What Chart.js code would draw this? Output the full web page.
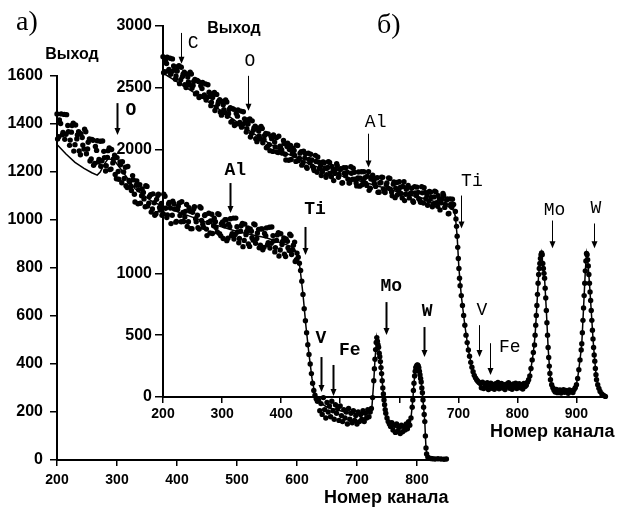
<!DOCTYPE html>
<html>
<head>
<meta charset="utf-8">
<script src="https://cdn.jsdelivr.net/npm/chart.js@4.4.1/dist/chart.umd.min.js"></script>
<style>
body { margin: 0; background: #fff; }
#wrap { position: relative; width: 620px; height: 507px; }
#wrap canvas { position: absolute; left: 0; top: 0; }
</style>
</head>
<body>
<div id="wrap">
  <canvas id="chartA" width="620" height="507"></canvas>
  <canvas id="chartB" width="620" height="507"></canvas>
</div>
<script>
// Спектры: а) и б), выход по номеру канала

// ---- а) ----
const aXTicks = [200, 300, 400, 500, 600, 700, 800];
const aYTicks = [0, 200, 400, 600, 800, 1000, 1200, 1400, 1600];

// сплошная полоса точек, два прохода: каналы 200, 203, 206 ... и 201, 204, 207 ...
const aBandStep = 3;
const aBandStart1 = 200;
const aBandCounts1 = [
  1442,1347,1402,1355,1440,1357,1394,1311,1366,1403,1314,1338,1368,1272,1344,1296,1368,1296,1338,1254,
  1332,1236,1290,1242,1328,1247,1286,1204,1261,1300,1212,1238,1270,1172,1202,1242,1155,1200,1220,1135,
  1165,1140,1185,1107,1145,1068,1147,1101,1115,1055,1140,1070,1105,1046,1072,1026,1102,1052,1069,1026,
  1099,1010,1067,1050,1020,1068,991,1044,1071,993,1031,1013,1065,993,1036,964,1047,1005,1020,962,
  1050,982,1019,962,990,946,1024,976,993,950,1023,934,992,976,1001,924,972,935,1008,940,
  972,905,953,986,915,939,967,890,953,916,980,923,961,895,963,886,934,897,970,903,
  935,867,915,947,875,898,925,848,911,873,935,875,908,835
];
const aBandStart2 = 201;
const aBandCounts2 = [
  1338,1417,1442,1365,1336,1439,1368,1333,1394,1287,1396,1354,1288,1360,1312,1378,1276,1324,1246,1336,
  1228,1306,1330,1252,1224,1329,1260,1226,1289,1210,1294,1254,1190,1260,1170,1230,1243,1173,1143,1223,
  1158,1123,1168,1075,1163,1126,1070,1129,1088,1143,1058,1098,1033,1109,1020,1086,1107,1043,1020,1107,
  1049,1021,1073,985,1078,1046,994,1057,1019,1076,994,1036,973,1051,964,1032,1055,993,968,1055,
  998,970,1022,935,1028,996,944,1007,969,1026,943,985,923,1001,914,982,1005,943,921,1008,
  950,923,976,889,983,952,900,963,926,984,903,946,884,963,876,944,967,905,883,971,
  913,885,938,850,943,911,858,921,884,941,856,895,827
];

// край Ti, пики Mo и W: [канал, выход]
const aEdges = [
  [600,862],[602,845],[604,820],[606,790],[608,745],[610,690],[612,630],[614,580],[616,530],[618,480],
  [620,440],[622,400],[624,360],[626,320],[628,290],[630,270],[632,255],[634,245],
  [636,250],[638,205],[640,235],[642,190],[644,260],[646,210],[648,175],[650,240],[652,200],[654,225],
  [656,180],[658,245],[660,205],[662,170],[664,230],[666,195],[668,215],[670,165],[672,225],[674,185],
  [676,160],[678,210],[680,175],[682,200],[684,150],[686,215],[688,170],[690,195],[692,155],[694,205],
  [696,165],[698,185],[700,150],[702,200],[704,160],[706,190],[708,170],[710,205],[712,160],[714,195],
  [716,175],[718,210],[720,180],[722,200],[724,215],
  [726,260],[728,330],[729,380],[730,420],[731,460],[732,490],[733,510],[734,495],[735,480],[736,470],
  [737,445],[738,430],[739,410],[740,385],[741,360],[742,330],[743,300],[744,275],[745,250],[746,230],
  [747,210],[748,195],[750,175],[752,160],[754,150],
  [756,140],[758,155],[760,125],[762,145],[764,115],[766,150],[768,120],[770,135],[772,110],[774,145],
  [776,118],[778,140],[780,125],[782,150],[784,130],[786,160],[788,145],[790,175],
  [792,220],[793,250],[794,290],[795,320],[796,350],[797,370],[798,385],[799,390],[800,395],[801,396],
  [802,392],[803,385],[804,370],[805,355],[806,340],[807,325],[808,300],[809,280],[810,250],[811,220],
  [812,190],[813,160],[814,100],[815,50],[816,25],[818,12],[820,8],[823,6],[826,5],[830,4],
  [835,5],[840,4],[845,3],[849,4]
];

// расчётная кривая
const aFit = [
  [200,1315],[215,1275],[230,1240],[245,1215],[258,1197],[267,1187],[272,1200],[278,1230],[285,1255],
  [295,1250],[310,1200],[330,1130],[360,1075],[400,1035],[450,990],[500,952],[550,925],[590,890],
  [600,865],[605,800],[610,690],[615,555],[620,440],[625,340],[630,270],[635,245],[650,220],[680,200],
  [710,190],[725,225],[728,330],[730,420],[733,510],[736,470],[739,410],[741,360],[743,300],[745,250],
  [747,210],[750,175],[755,148],[770,130],[785,140],[790,175],[793,250],[795,320],[797,370],[799,390],
  [801,396],[803,385],[805,355],[807,325],[809,280],[811,220],[813,160],[814,100],[815,50],[817,18],
  [820,8],[830,5],[850,4]
];

const aArrows = [
  { label: 'O',  ch: 300, from: 1487, to: 1354, lx: 323, ly: 1458 },
  { label: 'Al', ch: 488, from: 1154, to: 1029, lx: 497, ly: 1208 },
  { label: 'Ti', ch: 613, from: 971,  to: 854,  lx: 630, ly: 1042 },
  { label: 'V',  ch: 640, from: 429,  to: 283,  lx: 640, ly: 508 },
  { label: 'Fe', ch: 660, from: 396,  to: 267,  lx: 688, ly: 458 },
  { label: 'Mo', ch: 748, from: 658,  to: 521,  lx: 757, ly: 721 },
  { label: 'W',  ch: 812, from: 554,  to: 429,  lx: 817, ly: 617 }
];

// ---- б) ----
const bXTicks = [200, 300, 400, 500, 600, 700, 800, 900];
const bXTickLabels = ['200', '300', '400', '', '', '700', '800', '900'];
const bYTicks = [0, 500, 1000, 1500, 2000, 2500, 3000];
const bYTickLabels = ['0', '500', '1000', '', '2000', '2500', '3000'];

const bBandStep = 3;
const bBandStart1 = 200;
const bBandCounts1 = [
  2752,2631,2697,2635,2739,2633,2676,2569,2636,2679,2565,2591,2626,2502,2588,2525,2612,2518,2567,2459,
  2552,2430,2494,2430,2532,2424,2465,2356,2421,2462,2345,2370,2404,2279,2364,2300,2386,2291,2339,2231,
  2326,2205,2271,2208,2312,2206,2249,2142,2208,2248,2131,2156,2190,2065,2150,2086,2172,2080,2132,2027,
  2040,2107,1986,2061,2097,1977,2029,1998,2075,1963,2025,1914,2035,1969,1993,1905,2034,1931,1984,1893,
  1930,1859,1971,1894,1916,1848,1954,1817,1899,1871,1824,1895,1777,1856,1896,1780,1836,1808,1887,1776,
  1840,1731,1854,1790,1817,1731,1862,1761,1817,1730,1772,1705,1821,1748,1774,1711,1821,1688,1774,1749,
  1703,1774,1656,1735,1776,1660,1716,1689,1767,1657,1721,1612,1735,1670,1696,1610,1741,1640,1697,1610,
  1651,1585,1701,1628,1655,1591,1701,1569,1655,1630,1585,1656,1539,1618,1659,1543,1599,1570,1646,1533,
  1594,1482,1602,1534,1557
];
const bBandStart2 = 201;
const bBandCounts2 = [
  2622,2718,2747,2648,2609,2734,2643,2596,2670,2534,2667,2611,2525,2612,2548,2627,2496,2552,2451,2560,
  2422,2517,2544,2443,2402,2525,2432,2383,2455,2317,2447,2390,2303,2389,2324,2402,2270,2325,2223,2332,
  2196,2292,2321,2221,2182,2307,2216,2169,2242,2103,2233,2176,2089,2175,2110,2188,2056,2114,2016,2128,
  1992,2089,2119,2021,1982,2108,2018,1972,2049,1916,2052,2001,1920,2012,1953,2037,1911,1972,1875,1987,
  1967,1849,1921,1963,1865,1832,1904,1941,1848,1791,1901,1852,1797,1903,1808,1864,1750,1840,1871,1801,
  1847,1733,1809,1855,1762,1733,1809,1850,1761,1707,1819,1770,1716,1822,1728,1785,1671,1762,1793,1724,
  1770,1656,1731,1777,1683,1654,1730,1771,1681,1627,1738,1689,1635,1740,1646,1702,1588,1679,1711,1642,
  1688,1575,1651,1697,1604,1575,1651,1693,1604,1550,1662,1613,1559,1665,1571,1627,1513,1602,1630,1558,
  1601,1484,1557,1599
];

const bEdges = [
  [695,1500],[696,1440],[697,1380],[698,1300],[699,1210],[700,1120],[701,1040],[702,960],[703,900],[705,820],
  [707,740],[709,660],[711,580],[713,500],[715,440],[717,380],[719,330],[721,280],[723,240],[725,205],
  [727,175],[729,155],[731,140],[733,128],[735,118],
  [737,110],[739,75],[741,120],[743,68],[745,105],[747,80],[749,115],[751,60],[753,95],[755,112],
  [757,70],[759,100],[761,62],[763,108],[765,85],[767,118],[769,66],[771,92],[773,110],[775,72],
  [777,98],[779,60],[781,104],[783,88],[785,115],[787,70],[789,96],[791,62],[793,106],[795,80],
  [797,112],[799,68],[801,94],[803,108],[805,74],[807,100],[809,65],[811,110],[813,85],[815,95],
  [817,120],[819,140],
  [821,170],[823,230],[825,300],[827,360],[829,420],[830,500],[831,580],[832,660],[833,740],[834,830],
  [835,920],[836,990],[837,1040],[838,1080],[839,1120],[840,1150],[841,1165],[842,1150],[843,1080],[844,1040],
  [845,1000],[846,960],[847,880],[848,800],[849,700],[850,600],[851,500],[852,400],[853,320],[854,250],
  [855,190],[856,140],[858,100],[860,75],
  [862,55],[864,40],[866,62],[868,35],[870,50],[872,58],[874,32],[876,48],[878,60],[880,38],
  [882,52],[884,45],[886,30],[888,57],[890,42],[892,50],[894,36],[896,60],[898,75],
  [900,100],[902,150],[904,220],[906,300],[908,380],[909,430],[910,520],[911,620],[912,720],[913,820],
  [914,920],[915,1020],[916,1100],[917,1160],[918,1150],[919,1110],[920,1060],[921,990],[922,920],[923,850],
  [924,780],[925,700],[926,620],[927,540],[928,470],[929,400],[930,340],[931,290],[932,230],[933,180],
  [934,140],[936,100],[938,70],[940,45],[943,25],[946,12],[949,5]
];

const bFit = [
  [200,2620],[230,2530],[260,2440],[300,2310],[350,2140],[400,1990],[450,1880],[500,1790],[550,1725],
  [600,1655],[650,1595],[680,1550],[692,1510],[695,1460],[698,1300],[701,1040],[705,820],[711,580],
  [717,380],[723,240],[729,155],[735,118],[745,95],[780,88],[815,92],[819,130],[823,230],[827,360],
  [830,500],[833,740],[836,990],[839,1120],[841,1165],[843,1080],[846,960],[849,700],[852,400],[855,190],
  [858,100],[862,55],[880,45],[898,70],[902,150],[906,300],[909,430],[912,720],[915,1020],[917,1160],
  [919,1110],[922,920],[925,700],[928,470],[931,290],[934,140],[938,70],[943,25],[949,5]
];

const bArrows = [
  { label: 'C',  ch: 230, from: 2944, to: 2694, lx: 251, ly: 2863 },
  { label: 'O',  ch: 344, from: 2597, to: 2315, lx: 347, ly: 2718 },
  { label: 'Al', ch: 547, from: 2129, to: 1855, lx: 560, ly: 2218 },
  { label: 'Ti', ch: 704, from: 1629, to: 1363, lx: 723, ly: 1742 },
  { label: 'V',  ch: 735, from: 581,  to: 323,  lx: 740, ly: 702 },
  { label: 'Fe', ch: 753, from: 435,  to: 177,  lx: 787, ly: 403 },
  { label: 'Mo', ch: 858, from: 1427, to: 1202, lx: 863, ly: 1508 },
  { label: 'W',  ch: 929, from: 1403, to: 1202, lx: 933, ly: 1524 }
];

// ---- отрисовка ----
const SANS = '"Liberation Sans", Arial, sans-serif';

function toPoints(pairs) {
  return pairs.map(p => ({ x: p[0], y: p[1] }));
}
function bandPoints(start, step, counts) {
  return counts.map((v, i) => ({ x: start + i * step, y: v }));
}

// стрелки, подписи элементов и надписи
function makeMarks(arrows, texts, labelFont, arrowWidth) {
  return {
    id: 'marks',
    afterDatasetsDraw(chart) {
      const ctx = chart.ctx;
      const sx = chart.scales.x, sy = chart.scales.y;
      ctx.save();
      ctx.fillStyle = '#000';
      ctx.strokeStyle = '#000';
      ctx.lineWidth = arrowWidth;
      ctx.textAlign = 'center';
      ctx.textBaseline = 'middle';
      ctx.font = labelFont;
      const head = 7;
      arrows.forEach(a => {
        const x = Math.round(sx.getPixelForValue(a.ch)) + 0.5;
        const y1 = sy.getPixelForValue(a.from);
        const y2 = sy.getPixelForValue(a.to);
        ctx.beginPath();
        ctx.moveTo(x, y1);
        ctx.lineTo(x, y2 - head + 1);
        ctx.stroke();
        ctx.beginPath();
        ctx.moveTo(x - 3, y2 - head);
        ctx.lineTo(x + 3, y2 - head);
        ctx.lineTo(x, y2);
        ctx.closePath();
        ctx.fill();
        ctx.fillText(a.label, sx.getPixelForValue(a.lx), sy.getPixelForValue(a.ly));
      });
      texts.forEach(t => {
        ctx.font = t.font;
        ctx.textAlign = t.align;
        ctx.textBaseline = t.baseline;
        ctx.fillText(t.text, t.x, t.y);
      });
      ctx.restore();
    }
  };
}

function axis(min, max, ticks, labels, fitSize, horizontal, tickLength, padding, fontSize) {
  return {
    type: 'linear',
    min: min,
    max: max,
    afterBuildTicks: s => { s.ticks = ticks.map(v => ({ value: v })); },
    afterFit: s => { if (horizontal) s.height = fitSize; else s.width = fitSize; },
    ticks: {
      color: '#000',
      font: { family: SANS, size: fontSize, weight: 'bold' },
      padding: padding,
      callback: (v, i) => labels ? labels[i] : String(v)
    },
    grid: { display: true, drawOnChartArea: false, drawTicks: true, tickLength: tickLength, color: '#000', lineWidth: 1.5 },
    border: { display: true, color: '#000', width: 2 }
  };
}

function spectrum(canvasId, band, edges, fit, xScale, yScale, padding, marks) {
  return new Chart(document.getElementById(canvasId), {
    type: 'scatter',
    data: {
      datasets: [
        { data: band.concat(toPoints(edges)), showLine: false, pointRadius: 2.7, pointBorderWidth: 0,
          backgroundColor: '#000', clip: false },
        { data: toPoints(fit), showLine: true, pointRadius: 0, borderColor: '#000', borderWidth: 1.5,
          tension: 0, clip: false }
      ]
    },
    options: {
      responsive: false,
      devicePixelRatio: 1,
      animation: false,
      events: [],
      layout: { padding: padding },
      plugins: { legend: { display: false }, tooltip: { enabled: false } },
      scales: { x: xScale, y: yScale }
    },
    plugins: [marks]
  });
}

const aTexts = [
  { text: 'а)', x: 16, y: 30, font: '28px "Liberation Serif", serif', align: 'left', baseline: 'alphabetic' },
  { text: 'Выход', x: 72, y: 55, font: 'bold 16px ' + SANS, align: 'center', baseline: 'middle' },
  { text: 'Номер канала', x: 324, y: 498, font: 'bold 18px ' + SANS, align: 'left', baseline: 'middle' }
];
const bTexts = [
  { text: 'б)', x: 377, y: 33, font: '28px "Liberation Serif", serif', align: 'left', baseline: 'alphabetic' },
  { text: 'Выход', x: 234, y: 29, font: 'bold 16px ' + SANS, align: 'center', baseline: 'middle' },
  { text: 'Номер канала', x: 490, y: 432, font: 'bold 18px ' + SANS, align: 'left', baseline: 'middle' }
];

spectrum('chartA',
  bandPoints(aBandStart1, aBandStep, aBandCounts1).concat(bandPoints(aBandStart2, aBandStep, aBandCounts2)),
  aEdges, aFit,
  axis(200, 850, aXTicks, null, 47, true, 6, 6, 14),
  axis(0, 1600, aYTicks, null, 57, false, 7, 7, 16),
  { top: 76, right: 173, left: 0, bottom: 0 },
  makeMarks(aArrows, aTexts, 'bold 18px "Liberation Mono", monospace', 2));

spectrum('chartB',
  bandPoints(bBandStart1, bBandStep, bBandCounts1).concat(bandPoints(bBandStart2, bBandStep, bBandCounts2)),
  bEdges, bFit,
  axis(200, 950, bXTicks, bXTickLabels, 110, true, 6, 3, 14),
  axis(0, 3000, bYTicks, bYTickLabels, 163, false, 8, 3, 16),
  { top: 26, right: 14, left: 0, bottom: 0 },
  makeMarks(bArrows, bTexts, '18px "Liberation Mono", monospace', 1));
</script>
</body>
</html>
